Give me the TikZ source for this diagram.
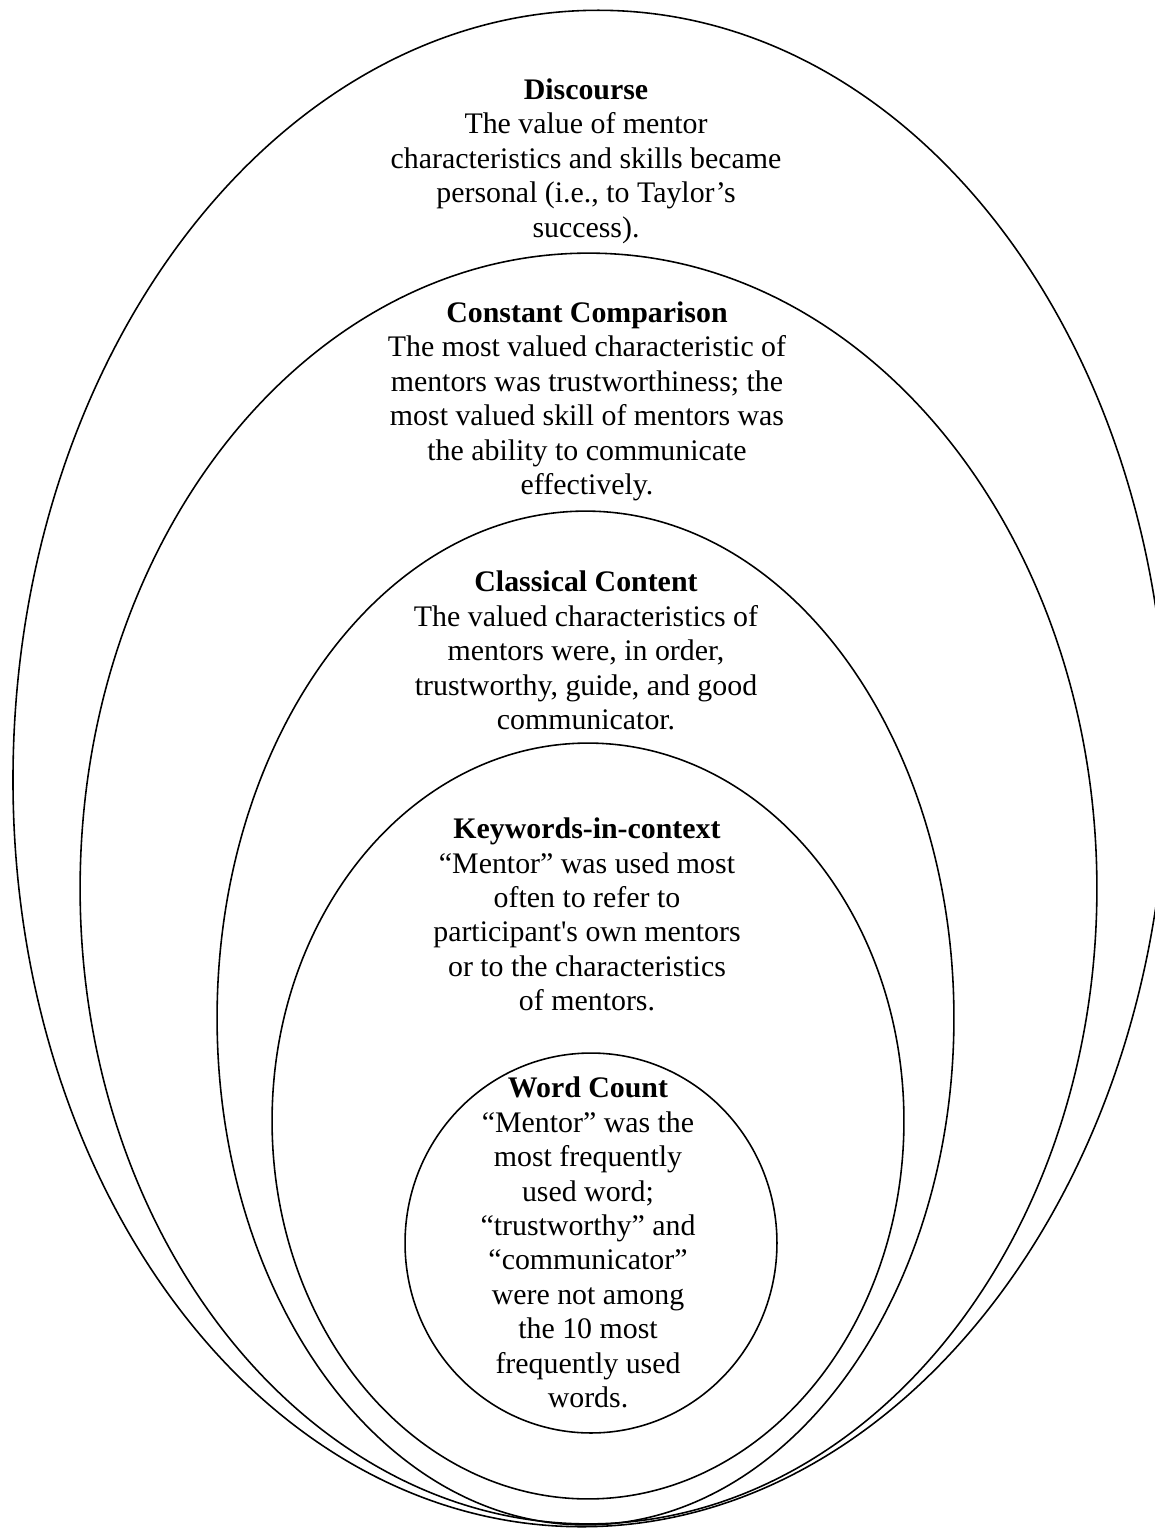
\documentclass[tikz,border=0pt]{standalone}
\usepackage{fontspec}
\setmainfont{Liberation Serif}
\usetikzlibrary{shapes.geometric}

\tikzset{
    ring/.style={ellipse, draw, line width=0.9pt, inner sep=0pt},
    txt/.style={align=center, font=\fontsize{17}{19.6}\selectfont, inner sep=0pt}
}

\begin{document}
\begin{tikzpicture}[x=0.02cm, y=-0.02cm]
    \useasboundingbox (0,0) rectangle (1154,1528);
    % nested rings
    \node[ring, minimum width=23.08cm, minimum height=30.34cm, rotate=-1.5] at (590,768.5) (Disc) {};
    \node[ring, minimum width=20.34cm, minimum height=25.42cm] at (588.5,888.5) (Comp) {};
    \node[ring, minimum width=14.74cm, minimum height=20.28cm] at (585.5,1018) (Class) {};
    \node[ring, minimum width=12.64cm, minimum height=15.12cm] at (588,1121) (KWIC) {};
    \node[ring, minimum width=7.44cm, minimum height=7.60cm] at (591,1243) (WC) {};
    % texts
    \node[txt] at (586,161) (DiscText) {\textbf{Discourse}\\ The value of mentor\\ characteristics and skills became\\ personal (i.e., to Taylor’s\\ success).};
    \node[txt] at (587,401.5) (CompText) {\textbf{Constant Comparison}\\ The most valued characteristic of\\ mentors was trustworthiness; the\\ most valued skill of mentors was\\ the ability to communicate\\ effectively.};
    \node[txt] at (586,650.5) (ClassText) {\textbf{Classical Content}\\ The valued characteristics of\\ mentors were, in order,\\ trustworthy, guide, and good\\ communicator.};
    \node[txt] at (587,914.5) (KWICText) {\textbf{Keywords-in-context}\\ “Mentor” was used most\\ often to refer to\\ participant\textquotesingle s own mentors\\ or to the characteristics\\ of mentors.};
    \node[txt] at (588,1242.5) (WCText) {\textbf{Word Count}\\ “Mentor” was the\\ most frequently\\ used word;\\ “trustworthy” and\\ “communicator”\\ were not among\\ the 10 most\\ frequently used\\ words.};
\end{tikzpicture}
\end{document}
